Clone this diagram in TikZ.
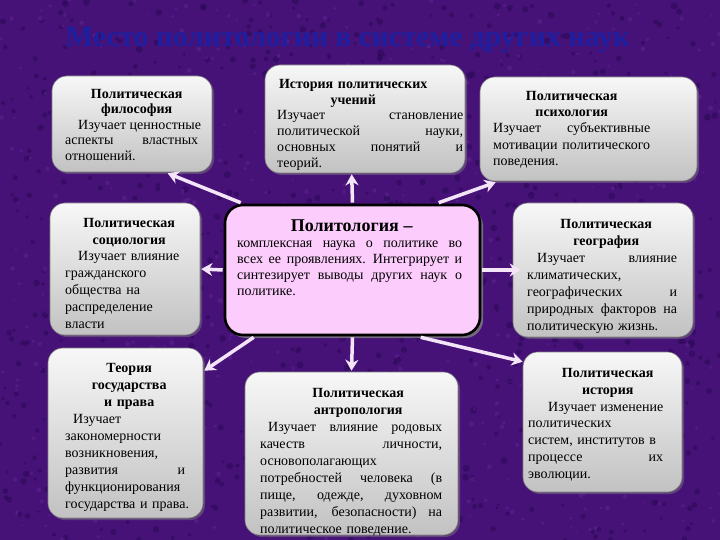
\documentclass[tikz,border=0pt]{standalone}
\usepackage{fontspec}
\setmainfont{Liberation Serif}
\usetikzlibrary{arrows.meta,shadows,calc}
\definecolor{bg}{RGB}{70,18,120}
\definecolor{bgdark}{RGB}{48,10,92}
\definecolor{bglight}{RGB}{96,38,146}
\definecolor{titleblue}{RGB}{30,30,160}
\definecolor{pinkfill}{RGB}{252,204,252}
\definecolor{arrowc}{RGB}{244,228,248}
\setlength{\parindent}{0pt}
\setlength{\parskip}{0pt}
\newlength{\tw}
\newcommand{\jl}[1]{\leavevmode\hbox to\tw{\spaceskip=0.25em plus 1fil\relax #1}\\}
\newcommand{\rl}[1]{\leavevmode\hbox{#1}\\}
\newcommand{\el}[1]{\leavevmode\hbox{#1}}
\newcommand{\ind}[1][14pt]{\hspace*{#1}}
\newcommand{\hd}[2][0pt]{{\centering\bfseries\leftskip=\dimexpr 2\dimexpr #1\relax\relax plus 1fil\relax #2\par}}
\begin{document}
\begin{tikzpicture}[x=1pt,y=-1pt,
  gbox/.style={rounded corners=15pt, draw=black!50, line width=0.6pt,
    top color=white!97!black, bottom color=black!24,
    drop shadow={opacity=0.45, shadow xshift=2pt, shadow yshift=-2pt}},
  cbox/.style={rounded corners=18pt, draw=black, line width=2.6pt, fill=pinkfill,
    drop shadow={opacity=0.8, shadow xshift=3pt, shadow yshift=-3pt}},
  txt/.style 2 args={anchor=north west, inner sep=0pt, text width=#1,
    font=\fontsize{14}{#2}\selectfont, execute at begin node={\setlength{\tw}{#1}}},
  arr/.style={draw=arrowc, line width=3.5pt, -{Stealth[length=11pt,width=13pt,inset=3.5pt]}}]
\useasboundingbox (0,0) rectangle (720,540);
\fill[bg] (0,0) rectangle (720,540);
\pgfmathsetseed{7}
\foreach \i in {1,...,900} {
  \fill[bgdark, opacity=0.7] ({rnd*720},{rnd*540}) circle[radius={1.5+rnd*2}];
}
\foreach \i in {1,...,600} {
  \fill[bglight, opacity=0.5] ({rnd*720},{rnd*540}) circle[radius={1+rnd*1.5}];
}

\node[font=\fontsize{29.5}{33}\selectfont\bfseries, text=titleblue, anchor=base] (title) at (348,47)
  {Место политологии в системе других наук};

% boxes
\node[gbox, minimum width=160pt, minimum height=96pt] (phil) at (132,124) {};
\node[gbox, minimum width=200pt, minimum height=108pt] (hist) at (365,119) {};
\node[gbox, minimum width=217pt, minimum height=104pt] (psych) at (588.5,129) {};
\node[gbox, minimum width=150pt, minimum height=132pt] (soc) at (125,269) {};
\node[cbox, minimum width=255pt, minimum height=130pt] (c) at (352.5,270) {};
\node[gbox, minimum width=180pt, minimum height=134pt] (geo) at (603,270) {};
\node[gbox, minimum width=155pt, minimum height=170pt] (theory) at (125.5,433) {};
\node[gbox, minimum width=213pt, minimum height=163pt] (anthro) at (351.5,453.5) {};
\node[gbox, minimum width=159pt, minimum height=140pt] (histp) at (602.5,422) {};

% texts
\node[txt={133pt}{15.5}] (philt) at (65,89)
  {\hd[5pt]{Политическая\\философия}\jl{\ind[13pt]Изучает ценностные}\jl{аспекты властных}\el{отношений.}};
\node[txt={186pt}{15.8}] (histt) at (277,79)
  {\hd[-17pt]{История политических\\учений}\jl{Изучает становление}\jl{политической науки,}\jl{основных понятий и}\el{теорий.}};
\node[txt={157pt}{16.3}] (psycht) at (493,91)
  {\hd{Политическая\\психология}\jl{Изучает субъективные}\jl{мотивации политического}\el{поведения.}};
\node[txt={128pt}{16.8}] (soct) at (65,218)
  {\hd{Политическая\\социология}\rl{\ind[13pt]Изучает влияние}\rl{гражданского}\rl{общества на}\rl{распределение}\el{власти}};
\node[txt={225pt}{16}] (ct) at (237,220)
  {\hd[2pt]{\fontsize{18}{21}\selectfont Политология –}\jl{комплексная наука о политике во}\jl{всех ее проявлениях. Интегрирует и}\jl{синтезирует выводы других наук о}\el{политике.}};
\node[txt={150pt}{17}] (geot) at (527,219)
  {\hd[4pt]{Политическая\\география}\jl{\ind[10pt]Изучает влияние}\rl{климатических,}\jl{географических и}\jl{природных факторов на}\el{политическую жизнь.}};
\node[txt={120pt}{16.9}] (theoryt) at (65,363.5)
  {\hd[4pt]{Теория\\государства\\и права}\rl{\ind[8pt]Изучает}\rl{закономерности}\rl{возникновения,}\jl{развития и}\rl{функционирования}\el{государства и права.}};
\node[txt={182pt}{16.9}] (anthrot) at (260,388.5)
  {\hd[7pt]{Политическая\\антропология}\jl{\ind[8pt]Изучает влияние родовых}\jl{качеств личности,}\rl{основополагающих}\jl{потребностей человека (в}\jl{пище, одежде, духовном}\jl{развитии, безопасности) на}\el{политическое поведение.}};
\node[txt={135pt}{16.7}] (histpt) at (528,368.5)
  {\hd[12pt]{Политическая\\история}\jl{\ind[20pt]Изучает изменение}\rl{политических}\rl{систем, институтов в}\jl{процессе их}\el{эволюции.}};

% connectors
\draw[arr] ($(c.north west)+(17,-1)$) -- ($(phil.south west)+(116,1)$);
\draw[arr] ($(c.north)+(0,-1)$) -- ($(hist.south west)+(87,1)$);
\draw[arr] ($(c.north west)+(215,-1)$) -- ($(psych.south west)+(16,1)$);
\draw[arr] ($(c.west)+(-1,0)$) -- ($(soc.east)+(1,0)$);
\draw[arr] ($(c.east)+(1,0)$) -- ($(geo.west)+(8,0)$);
\draw[arr] ($(c.south west)+(30,1)$) -- ($(theory.north east)+(1,23)$);
\draw[arr] ($(c.south)+(0,1)$) -- ($(anthro.north)+(0,-1)$);
\draw[arr] ($(c.south west)+(197,1)$) -- ($(histp.north west)+(0,10)$);
\end{tikzpicture}
\end{document}
